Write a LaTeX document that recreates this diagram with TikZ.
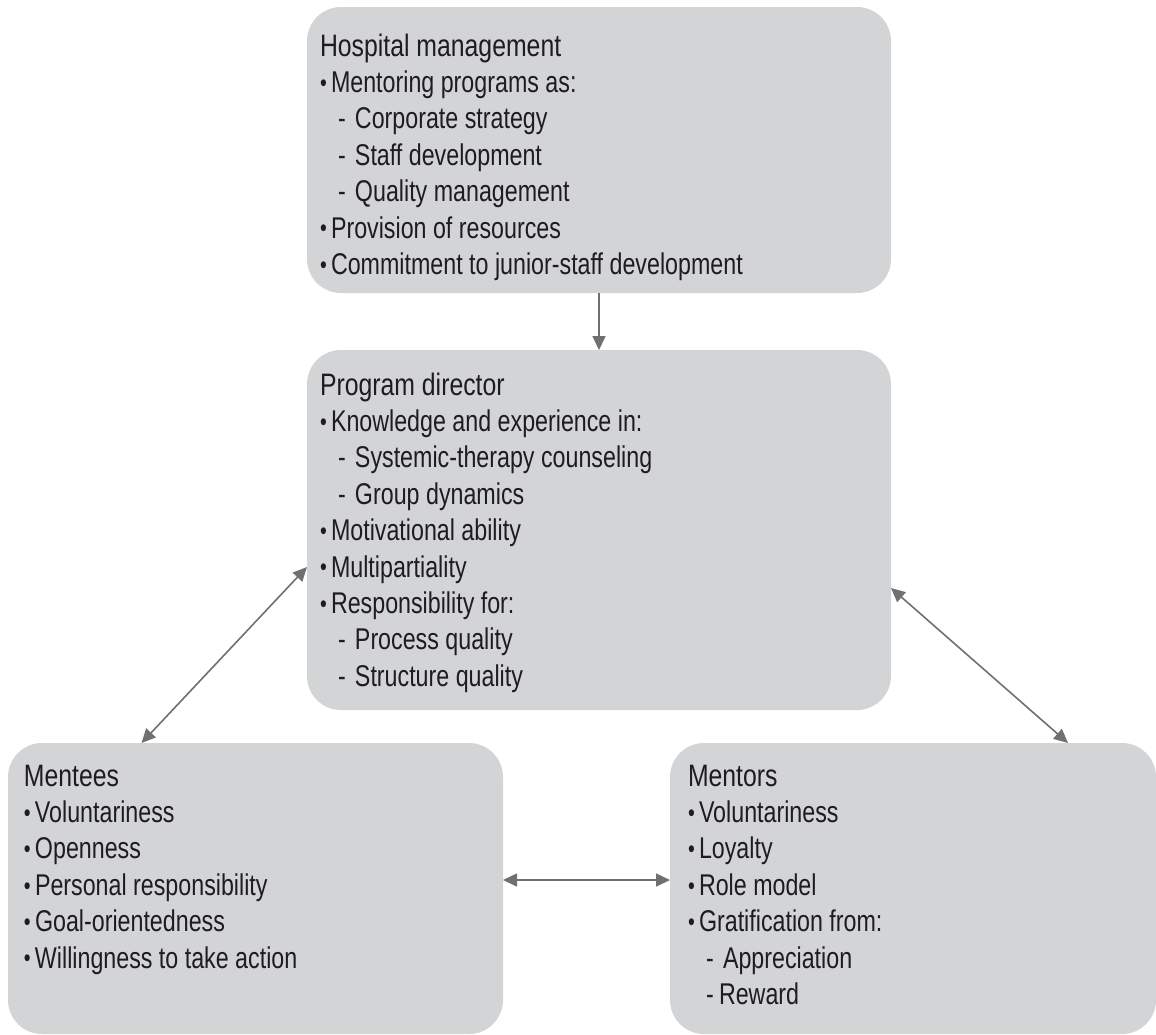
\documentclass[tikz,border=0pt]{standalone}
\usepackage{fontspec}
\setmainfont{Liberation Sans}[FakeStretch=0.775]
\newfontfamily\titlefont{Liberation Sans}[FakeStretch=0.8]
\usetikzlibrary{arrows.meta}
\definecolor{boxgray}{RGB}{211,212,214}
\definecolor{arrowgray}{RGB}{112,112,114}
\definecolor{textcol}{RGB}{30,28,30}
\newcommand\bul{\makebox[5.5pt][l]{\raisebox{0.6pt}{\fontsize{12.5}{12.5}\selectfont •}}}
\newcommand\dsh{\hspace*{9pt}\makebox[8.5pt][l]{-}}
\newcommand\ttl[1]{\rule{0pt}{12pt}{\titlefont\fontsize{15.5}{18.2}\selectfont #1}}
\begin{document}
\begin{tikzpicture}[x=0.5pt,y=-0.5pt,
  panel/.style={fill=boxgray, draw=none, rounded corners=17pt, inner sep=0pt, outer sep=0pt, anchor=north west},
  txt/.style={anchor=north west, inner sep=0pt, outer sep=0pt, align=left, text=textcol, font=\fontsize{15}{18.2}\selectfont, yshift=12pt},
  link/.style={draw=arrowgray, line width=0.8pt, -{Triangle[length=7pt,width=6.5pt]}},
  dlink/.style={link, {Triangle[length=7pt,width=6.5pt]}-{Triangle[length=7pt,width=6.5pt]}}
]
\useasboundingbox (0,0) rectangle (1156,1034);

\node[panel, minimum width=292pt, minimum height=143pt] (hm) at (307,7) {};
\node[panel, minimum width=292pt, minimum height=180pt] (pd) at (307,350) {};
\node[panel, minimum width=247.5pt, minimum height=145.5pt] (mentees) at (8,743) {};
\node[panel, minimum width=243pt, minimum height=145.5pt] (mentors) at (670,743) {};

\node[txt] (hmtext) at (320,56) {\ttl{Hospital management}\\
\bul Mentoring programs as:\\
\dsh Corporate strategy\\
\dsh Staff development\\
\dsh Quality management\\
\bul Provision of resources\\
\bul Commitment to junior-staff development};

\node[txt] (pdtext) at (320,395) {\ttl{Program director}\\
\bul Knowledge and experience in:\\
\dsh Systemic-therapy counseling\\
\dsh Group dynamics\\
\bul Motivational ability\\
\bul Multipartiality\\
\bul Responsibility for:\\
\dsh Process quality\\
\dsh Structure quality};

\node[txt] (meteetext) at (24,786) {\ttl{Mentees}\\
\bul Voluntariness\\
\bul Openness\\
\bul Personal responsibility\\
\bul Goal-orientedness\\
\bul Willingness to take action};

\node[txt] (mentortext) at (688,786) {\ttl{Mentors}\\
\bul Voluntariness\\
\bul Loyalty\\
\bul Role model\\
\bul Gratification from:\\
\dsh Appreciation\\
\hspace*{9pt}\makebox[6.5pt][l]{-}Reward};

\draw[link] (hm.south) -- (pd.north);
\draw[dlink] ([yshift=-18.5pt]pd.west) -- ([xshift=-57pt]mentees.north);
\draw[dlink] ([yshift=-29pt]pd.east) -- ([xshift=77.5pt]mentors.north);
\draw[dlink] ([yshift=4.25pt]mentees.east) -- ([yshift=4.25pt]mentors.west);
\end{tikzpicture}
\end{document}
